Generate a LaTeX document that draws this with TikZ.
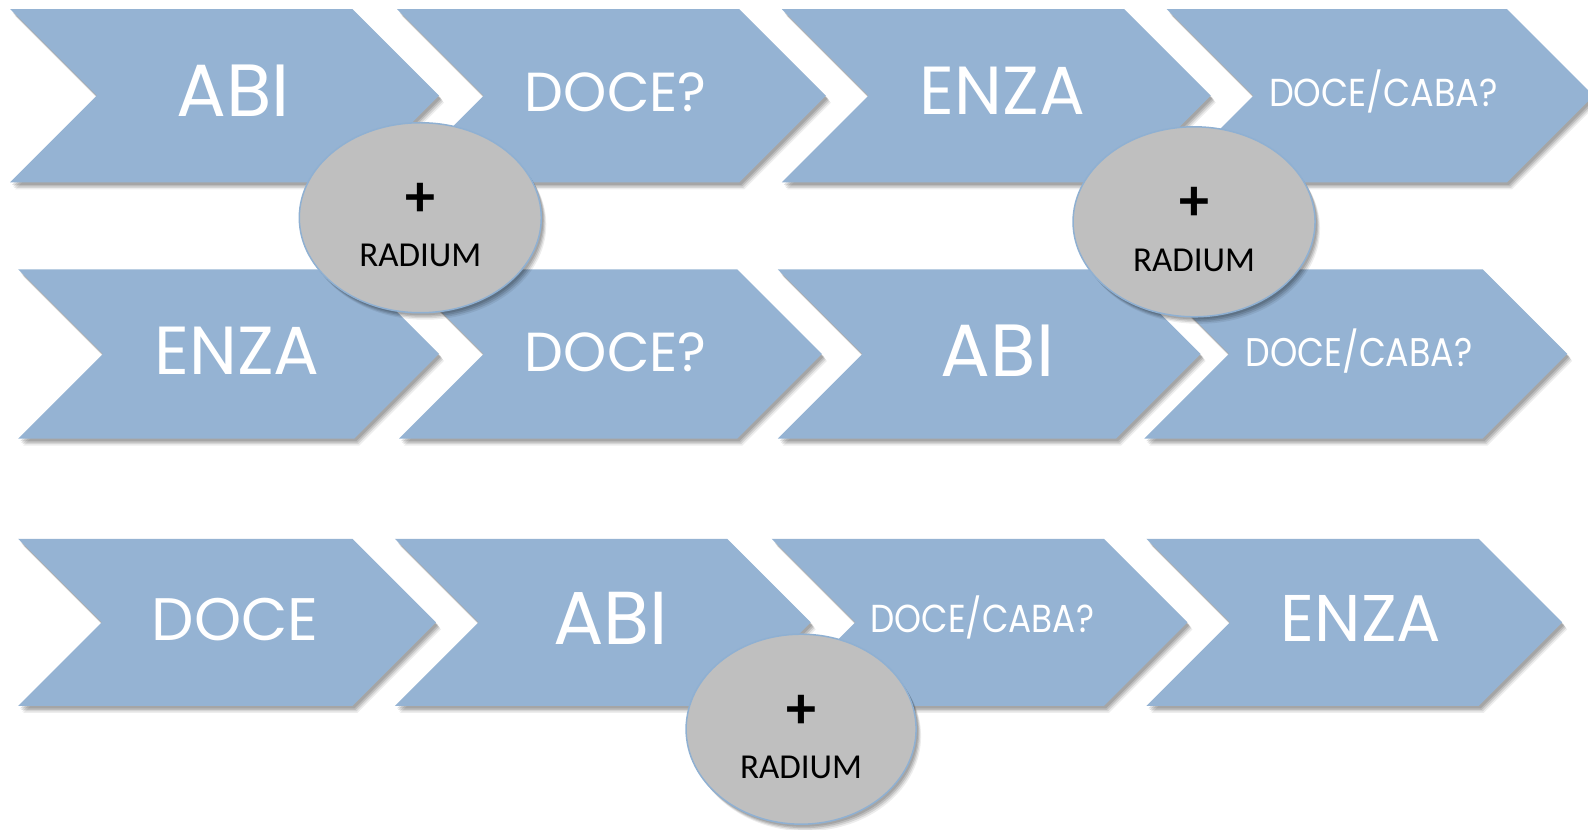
\documentclass[tikz,border=0pt]{standalone}
\usepackage{fontspec}
\setmainfont{Poppins}
\newfontfamily\calib{Carlito}
\usetikzlibrary{shapes.geometric}
\definecolor{chev}{HTML}{95B3D3}
\definecolor{ellf}{HTML}{BFBFBF}
\definecolor{elld}{HTML}{8FB0D2}
\tikzset{
  softshadow/.style={
    preaction={fill=black, opacity=0.12, transform canvas={shift={(2pt,-2.5pt)}}},
    preaction={fill=black, opacity=0.12, transform canvas={shift={(3pt,-4pt)}}},
    preaction={fill=black, opacity=0.10, transform canvas={shift={(4pt,-5.5pt)}}},
    preaction={fill=black, opacity=0.07, transform canvas={shift={(5pt,-7pt)}}}},
  chevfill/.style={fill=chev, softshadow},
  ctext/.style={text=white, anchor=base, inner sep=0pt},
  ell/.style={ellipse, fill=ellf, draw=elld, line width=1.5pt, minimum width=242pt, minimum height=190pt, inner sep=0pt, softshadow},
  plus/.style={font=\calib\bfseries\fontsize{60}{62}\selectfont, inner sep=0pt},
  rad/.style={font=\calib\fontsize{35}{40}\selectfont, anchor=base, inner sep=0pt}
}
\newcommand{\chev}[4]{\fill[chevfill] (#1,#2) -- ++(#3,0) -- ++({#4/2},{#4/2}) -- ++({-#4/2},{#4/2}) -- ++(-#3,0) -- ++({#4/2},{-#4/2}) -- cycle;}
\begin{document}
\begin{tikzpicture}[x=1.01276pt, y=-1.01276pt]
\useasboundingbox (0,0) rectangle (1568,819);
% row 1
\chev{10}{9}{338}{171}
\chev{392}{9}{338}{171}
\chev{772}{9}{338}{171}
\chev{1152}{9}{336}{171}
% row 2
\chev{18}{266}{332}{167}
\chev{394}{266}{334}{167}
\chev{768}{266}{334}{167}
\chev{1130}{266}{334}{167}
% row 3
\chev{18}{532}{330}{165}
\chev{390}{532}{328}{165}
\chev{762}{532}{328}{165}
\chev{1132}{532}{328}{165}
% texts row 1
\node[ctext, font=\fontsize{74}{80}\selectfont] (t11) at (230,115) {ABI};
\node[ctext, font=\fontsize{55}{60}\selectfont] (t12) at (608,110) {DOCE?};
\node[ctext, font=\fontsize{68}{72}\selectfont] (t13) at (990,113) {ENZA};
\node[ctext, xscale=0.9, font=\fontsize{39}{44}\selectfont] (t14) at (1366,105) {DOCE/CABA?};
% texts row 2
\node[ctext, font=\fontsize{68}{72}\selectfont] (t21) at (234,370) {ENZA};
\node[ctext, font=\fontsize{55}{60}\selectfont] (t22) at (608,367) {DOCE?};
\node[ctext, font=\fontsize{74}{80}\selectfont] (t23) at (985,372) {ABI};
\node[ctext, xscale=0.87, font=\fontsize{40}{44}\selectfont] (t24) at (1342,362) {DOCE/CABA?};
% texts row 3
\node[ctext, font=\fontsize{60}{64}\selectfont] (t31) at (232,632) {DOCE};
\node[ctext, font=\fontsize{75}{80}\selectfont] (t32) at (603,636) {ABI};
\node[ctext, xscale=0.88, font=\fontsize{39}{44}\selectfont] (t33) at (970,625) {DOCE/CABA?};
\node[ctext, font=\fontsize{66}{72}\selectfont] (t34) at (1344,633) {ENZA};
% ellipses
\node[ell] (e1) at (415,215) {};
\node[plus] (p1) at (415,197) {+};
\node[rad] (r1) at (415,263) {RADIUM};
\node[ell] (e2) at (1179,219) {};
\node[plus] (p2) at (1179,201) {+};
\node[rad] (r2) at (1179,268) {RADIUM};
\node[ell, minimum width=230pt] (e3) at (791,720) {};
\node[plus] (p3) at (791,703) {+};
\node[rad] (r3) at (791,769) {RADIUM};
\end{tikzpicture}
\end{document}
